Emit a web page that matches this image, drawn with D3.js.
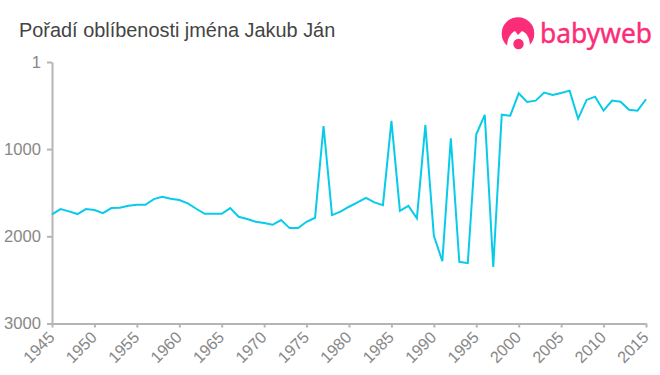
<!DOCTYPE html>
<html>
<head>
<meta charset="utf-8">
<script src="https://cdn.jsdelivr.net/npm/d3@7"></script>
<style>
  html, body { margin: 0; padding: 0; background: #fff; }
  svg { display: block; }
  text { font-family: "Liberation Sans", Arial, sans-serif; }
</style>
</head>
<body>
<svg id="chart" width="660" height="375"></svg>
<script>
const years = d3.range(1945, 2016);
const ranks = [
  1749, 1688, 1714, 1745, 1688, 1699, 1734, 1676, 1673, 1650,
  1638, 1638, 1573, 1546, 1569, 1584, 1623, 1684, 1742, 1742,
  1742, 1676, 1776, 1802, 1833, 1848, 1868, 1814, 1906, 1906,
  1833, 1787, 735, 1757, 1718, 1661, 1611, 1558, 1611, 1642,
  677, 1707, 1650, 1795, 723, 1994, 2285, 876, 2293, 2308,
  830, 608, 2350, 605, 617, 360, 459, 444, 352, 379,
  356, 329, 651, 436, 398, 559, 444, 456, 548, 559, 428
];
const xTicks = d3.range(1945, 2016, 5);
const yTicks = [1, 1000, 2000, 3000];

const svg = d3.select("#chart");

const x = d3.scaleLinear().domain([1945, 2015]).range([52, 646]);
const y = d3.scaleLinear().domain([1, 3000]).range([62, 323.5]);

svg.append("text")
  .attr("x", 19)
  .attr("y", 37)
  .attr("font-size", 19.9)
  .attr("fill", "#444")
  .text("Pořadí oblíbenosti jména Jakub Ján");

// x axis
const xAxis = svg.append("g")
  .attr("transform", "translate(0,323.5)")
  .call(d3.axisBottom(x).tickValues(xTicks).tickFormat(d3.format("d")).tickSize(4).tickSizeOuter(0));

xAxis.selectAll("text")
  .attr("font-size", 16.2)
  .attr("fill", "#888")
  .attr("text-anchor", "end")
  .attr("y", 0)
  .attr("dx", 0)
  .attr("dy", 0)
  .attr("transform", "translate(3,15) rotate(-45)");

// y axis
const yAxis = svg.append("g")
  .attr("transform", "translate(52,0)")
  .call(d3.axisLeft(y).tickValues(yTicks).tickFormat(d3.format("d")).tickSize(5).tickSizeOuter(0).tickPadding(6));

yAxis.selectAll("text")
  .attr("font-size", 16.6)
  .attr("fill", "#888");

svg.selectAll(".domain, .tick line")
  .attr("stroke", "#b5b5b5")
  .attr("stroke-width", 2);

svg.selectAll(".tick text").attr("font-family", "Liberation Sans");

// the line
const line = d3.line()
  .x((d, i) => x(years[i]))
  .y(d => y(d));

svg.append("path")
  .datum(ranks)
  .attr("d", line)
  .attr("fill", "none")
  .attr("stroke", "#08cbe9")
  .attr("stroke-width", 2);

// babyweb logo
const logo = svg.append("g").attr("fill", "#fb2c78");
logo.append("circle").attr("cx", 518).attr("cy", 33.5).attr("r", 16.3);
logo.append("path")
  .attr("d", "M507 47 C507 38 511 33 515 31 L518 35 L522 31 C527 33 530 38 530 47 L527 52 L509 52 Z")
  .attr("fill", "#fff");
logo.append("circle").attr("cx", 518.5).attr("cy", 44).attr("r", 5.2);
logo.append("text")
  .attr("x", 540)
  .attr("y", 43)
  .attr("font-size", 27)
  .attr("textLength", 112)
  .attr("lengthAdjust", "spacingAndGlyphs")
  .attr("stroke", "#fb2c78")
  .attr("stroke-width", 0.4)
  .style("font-family", "'Noto Sans', Lato, sans-serif")
  .text("babyweb");
</script>
</body>
</html>
